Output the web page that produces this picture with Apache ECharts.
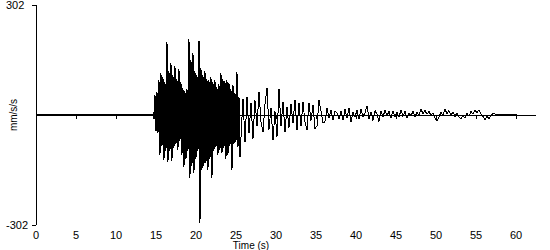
<!DOCTYPE html>
<html>
<head>
<meta charset="utf-8">
<script src="https://cdn.jsdelivr.net/npm/echarts@6/dist/echarts.min.js"></script>
<style>html,body{margin:0;padding:0;background:#fff}#c{width:550px;height:250px}#c svg path{shape-rendering:crispEdges}</style>
</head>
<body>
<div id="c"></div>
<script>
// Tick labels
const xTicks = [0, 5, 10, 15, 20, 25, 30, 35, 40, 45, 50, 55, 60];
const yTicks = [-302, 302];

// Quiet pre-event part (drawn as a thicker trace)
const quietTimes = [0, 3.5, 7, 10.5, 14.625];
const quietValues = [0.3, -0.3, 0.3, -0.3, 0];

// Strong motion segment: start 14.625 s, every 0.125 s
const strongStart = 14.625, strongStep = 0.125;
const strongValues = [
  8, -12, 55, -45, 63, -50, 95, -110, 115, -85,
  105, -123, 90, -100, 200, -130, 120, -100, 143, -125,
  110, -90, 135, -80, 100, -95, 125, -70, 90, -110,
  74, -143, 65, -120, 70, -100, 209, -173, 150, -140,
  170, -160, 120, -120, 110, -100, 203, -296, 130, -151,
  110, -140, 120, -132, 100, -150, 96, -120, 105, -173,
  90, -100, 95, -88, 77, -110, 85, -95, 115, -105,
  100, -90, 92, -120, 95, -110, 88, -85, 70, -151,
  82, -80, 60, -74, 118, -88, 50, -115
];

// Coda segment: start 25.625 s, every 0.25 s
const codaStart = 25.625, codaStep = 0.25;
const codaValues = [
  -60, 45, -74, 50, -50, 33, -65, 40, -30, 63,
  -20, -47, 30, 74, -40, 20, -69, 10, -60, 71,
  -30, 36, -47, 22, -35, 30, -22, 41, -41, 33,
  -30, 35, -20, -41, 33, -15, 27, -38, -30, 41,
  10, -22, -18, 19, -8, 14, -14, 10, 5, -10
];

// Tail segment: start 38.125 s, every 0.25 s
const tailStart = 38.125, tailStep = 0.25;
const tailValues = [
  10, -14, 15, -8, 19, -19, 8, -6, 14, -12, 16, -4, 6, 25, -10, 8, -15, 12, 2, -18,
  12, -6, 14, -2, 10, -8, 12, -5, 8, -6, 14, -4, 10, -9, 6, -3, 11, -6, 8, -2,
  16, 4, 12, 2, 10, -2, 6, -8, -16, -6,
  8, -2, 16, 4, 12, 0, 8, -4, 6, -6, -11, -2, -8, 4, -3,
  10, 2, 14, 6, 14, 2, -4, -14, -4, -10, -2, 4
];

// Final flat part
const endTimes = [57.4, 60.1, 60.15, 62.5];
const endValues = [2.5, 2.5, -0.5, -0.5];

function seg(start, step, vals) {
  return vals.map((v, i) => [start + i * step, v]);
}
const quietData = quietTimes.map((t, i) => [t, quietValues[i]]);
const data = [].concat(
  seg(strongStart, strongStep, strongValues),
  seg(codaStart, codaStep, codaValues),
  seg(tailStart, tailStep, tailValues),
  endTimes.map((t, i) => [t, endValues[i]])
);

const font = 'Liberation Sans, Arial, sans-serif';
const chart = echarts.init(document.getElementById('c'), null, {renderer: 'svg'});
chart.setOption({
  animation: false,
  backgroundColor: '#fff',
  grid: {left: 36, right: 14, top: 5, bottom: 25, outerBoundsMode: 'none', containLabel: false},
  xAxis: {
    type: 'value', min: 0, max: 62.5, interval: 5,
    name: 'Time (s)', nameLocation: 'middle', nameGap: 15, nameMoveOverlap: false,
    nameTextStyle: {color: '#000', fontFamily: font, fontSize: 10, lineHeight: 10, padding: [0, 70, 0, 0]},
    axisLine: {show: true, lineStyle: {color: '#000', width: 1}},
    axisTick: {show: true, length: 4, lineStyle: {color: '#000'}, customValues: xTicks},
    axisLabel: {color: '#000', fontFamily: font, fontSize: 11, lineHeight: 10, margin: 5, customValues: xTicks},
    splitLine: {show: false}
  },
  yAxis: {
    type: 'value', min: -302, max: 302,
    name: 'mm/s/s', nameLocation: 'middle', nameGap: 18, nameRotate: 90, nameMoveOverlap: false,
    nameTextStyle: {color: '#000', fontFamily: font, fontSize: 10},
    axisLine: {show: true, lineStyle: {color: '#000', width: 1}},
    axisTick: {show: true, length: 4, lineStyle: {color: '#000'}, customValues: yTicks},
    axisLabel: {color: '#000', fontFamily: font, fontSize: 11, margin: 30, align: 'left', customValues: yTicks},
    splitLine: {show: false}
  },
  series: [{
    type: 'line', data: quietData, showSymbol: false, symbol: 'none',
    lineStyle: {color: '#000', width: 2}, silent: true
  }, {
    type: 'line', data: data, showSymbol: false, symbol: 'none',
    lineStyle: {color: '#000', width: 1}, sampling: null, silent: true
  }]
});
</script>
</body>
</html>
